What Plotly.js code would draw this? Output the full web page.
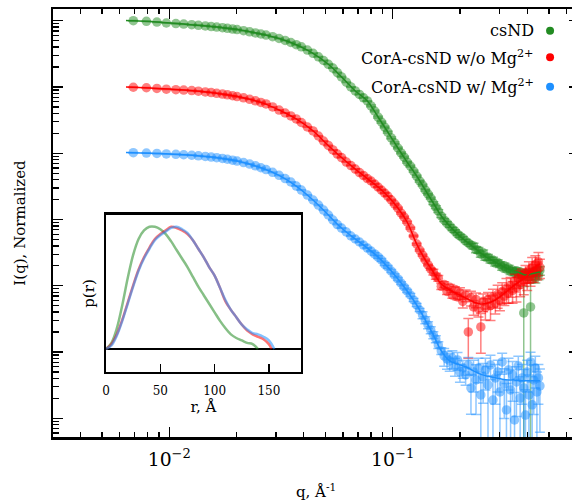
<!DOCTYPE html>
<html>
<head>
<meta charset="utf-8">
<script src="https://cdn.plot.ly/plotly-3.0.1.min.js"></script>
<style>
html,body{margin:0;padding:0;overflow:hidden;background:#fff;}
#chart{width:590px;height:501px;}
</style>
</head>
<body>
<div id="chart"></div>
<script>
// ---- SAXS data: q (1/Å) and normalized intensities ----
const q = [0.0069,0.0079,0.0088,0.0097,0.0107,0.0116,0.0126,0.0135,0.0145,0.0154,0.0163,0.0173,0.0182,0.0192,0.0201,0.0215,0.0229,0.0243,0.0257,0.0271,0.0290,0.0310,0.0330,0.0350,0.0370,0.0390,0.0415,0.0440,0.0465,0.0490,0.0515,0.0540,0.0565,0.0590,0.0620,0.0650,0.0680,0.0710,0.0740,0.0770,0.0800,0.0830,0.0860,0.0890,0.0920,0.0950,0.0985,0.1020,0.1055,0.1090,0.1125,0.1160,0.1200,0.1240,0.1280,0.1320,0.1360,0.1400,0.1440,0.1480,0.1520,0.1560,0.1600,0.1650,0.1700,0.1750,0.1800,0.1850,0.1900,0.1950,0.2000,0.2060,0.2120,0.2180,0.2240,0.2300,0.2360,0.2420,0.2480,0.2540,0.2600,0.2670,0.2740,0.2810,0.2880,0.2950,0.3020,0.3090,0.3160,0.3230,0.3300,0.3370,0.3440,0.3510,0.3580,0.3650,0.3720,0.3790,0.3860,0.3930,0.4000,0.4070,0.4140,0.4210,0.4280,0.4350,0.4420,0.4490,0.4560];

const I_csND = [1000,979,953,923,904,889,870,852,835,817,803,784,768,749,734,706,680,654,630,608,573,539,504,469,434,404,361,322,285,251,220,193,165,142,118,100,87.0,77.1,68.7,61.5,51.7,43.4,35.2,29.6,24.9,20.9,17.0,14.3,12.0,10.1,8.76,7.36,6.41,5.39,4.53,3.81,3.31,2.78,2.42,2.11,1.77,1.54,1.34,1.13,0.983,0.885,0.798,0.719,0.670,0.604,0.564,0.526,0.474,0.442,0.412,0.40,0.35,0.345,0.30,0.315,0.27,0.27,0.245,0.245,0.22,0.225,0.21,0.19,0.20,0.178,0.185,0.165,0.172,0.158,0.168,0.15,0.162,0.142,0.039,0.152,0.138,0.155,0.048,0.14,0.16,0.13,0.165,0.145,0.17];

const I_noMg = [99.0,97.3,94.9,92.6,91.0,89.8,88.2,86.4,84.3,82.3,80.3,78.1,76.0,73.7,71.6,68.5,65.2,61.9,58.5,55.4,49.9,44.9,40.5,36.5,32.9,29.1,24.9,21.7,18.2,15.3,13.1,11.2,9.72,8.61,7.36,6.52,5.77,5.11,4.61,4.15,3.81,3.43,3.09,2.78,2.51,2.26,1.97,1.71,1.49,1.25,1.09,0.917,0.744,0.564,0.427,0.346,0.291,0.245,0.206,0.179,0.161,0.140,0.13,0.098,0.105,0.082,0.095,0.072,0.088,0.068,0.078,0.058,0.072,0.0201,0.066,0.048,0.062,0.045,0.0239,0.058,0.047,0.062,0.05,0.068,0.055,0.074,0.06,0.082,0.07,0.092,0.078,0.1,0.085,0.115,0.095,0.13,0.105,0.14,0.118,0.155,0.125,0.17,0.14,0.19,0.16,0.21,0.175,0.23,0.19];

const I_Mg = [10.2,10.07,9.93,9.76,9.63,9.49,9.33,9.14,8.95,8.76,8.58,8.35,8.12,7.87,7.63,7.24,6.87,6.45,6.04,5.66,5.15,4.64,4.15,3.68,3.20,2.78,2.34,1.97,1.65,1.39,1.17,0.983,0.840,0.744,0.648,0.564,0.508,0.458,0.412,0.371,0.335,0.302,0.272,0.245,0.213,0.192,0.167,0.145,0.127,0.110,0.0959,0.0835,0.0726,0.0610,0.0513,0.0431,0.0362,0.0304,0.0256,0.0215,0.0181,0.0157,0.0128,0.0104,0.00873,0.00787,0.00734,0.00805,0.00617,0.00760,0.00501,0.00575,0.00451,0.00639,0.00287,0.00501,0.00379,0.00575,0.00225,0.00421,0.00537,0.00319,0.00639,0.00189,0.00407,0.00501,0.00250,0.00709,0.00330,0.00134,0.00537,0.00268,0.00451,0.000943,0.00354,0.00617,0.00202,0.00407,0.00287,0.00112,0.00501,0.00225,0.00709,0.00160,0.00379,0.00575,0.00250,0.00407,0.00308];

// relative uncertainties (fraction of I)
const relErr_csND = [0.01,0.01,0.01,0.01,0.01,0.01,0.01,0.01,0.01,0.01,0.01,0.01,0.01,0.01,0.01,0.01,0.01,0.01,0.01,0.01,0.01,0.01,0.01,0.01,0.01,0.01,0.01,0.01,0.01,0.01,0.01,0.01,0.01,0.01,0.01,0.01,0.01,0.01,0.01,0.01,0.03,0.03,0.03,0.03,0.03,0.03,0.03,0.03,0.03,0.03,0.03,0.03,0.03,0.03,0.03,0.03,0.03,0.03,0.03,0.03,0.05,0.05,0.05,0.05,0.05,0.05,0.05,0.05,0.05,0.05,0.05,0.05,0.05,0.05,0.05,0.1,0.1,0.1,0.1,0.1,0.1,0.1,0.1,0.1,0.1,0.1,0.1,0.1,0.1,0.1,0.1,0.1,0.1,0.1,0.1,0.1,0.1,0.1,1.5,0.12,0.12,0.12,1.3,0.15,0.15,0.15,0.15,0.15,0.15];

const relErr_noMg = [0.01,0.01,0.01,0.01,0.01,0.01,0.01,0.01,0.01,0.01,0.01,0.01,0.01,0.01,0.01,0.01,0.01,0.01,0.01,0.01,0.01,0.01,0.01,0.01,0.01,0.01,0.01,0.01,0.01,0.01,0.01,0.01,0.01,0.01,0.01,0.01,0.01,0.01,0.01,0.01,0.01,0.01,0.01,0.01,0.01,0.01,0.03,0.03,0.03,0.03,0.03,0.03,0.03,0.03,0.03,0.03,0.03,0.03,0.03,0.03,0.1,0.1,0.1,0.1,0.1,0.1,0.1,0.1,0.1,0.1,0.2,0.2,0.2,0.6,0.25,0.25,0.25,0.25,0.6,0.3,0.35,0.28,0.4,0.3,0.32,0.38,0.3,0.35,0.28,0.4,0.3,0.33,0.36,0.3,0.4,0.3,0.35,0.28,0.38,0.3,0.32,0.36,0.3,0.4,0.3,0.35,0.3,0.38,0.32];

const relErr_Mg = [0.01,0.01,0.01,0.01,0.01,0.01,0.01,0.01,0.01,0.01,0.01,0.01,0.01,0.01,0.01,0.01,0.01,0.01,0.01,0.01,0.01,0.01,0.01,0.01,0.01,0.01,0.01,0.01,0.01,0.01,0.01,0.01,0.01,0.01,0.01,0.01,0.01,0.01,0.01,0.01,0.01,0.05,0.05,0.05,0.05,0.05,0.05,0.05,0.05,0.05,0.05,0.05,0.05,0.05,0.05,0.05,0.12,0.12,0.12,0.12,0.12,0.12,0.12,0.12,0.3,0.3,0.3,0.3,0.3,0.3,0.3,0.3,0.3,0.3,0.6,0.5,0.7,0.4,1.2,0.6,0.5,0.9,0.4,1.3,0.6,0.5,1.0,0.35,0.7,1.5,0.5,1.0,0.6,1.6,0.7,0.4,1.1,0.6,0.9,1.4,0.5,1.0,0.4,1.2,0.7,0.5,1.0,0.6,0.8];

// fitted curves
const qFit = [0.0064,0.0069,0.0088,0.0116,0.0154,0.0201,0.0257,0.031,0.037,0.044,0.0515,0.059,0.068,0.077,0.086,0.095,0.1055,0.116,0.128,0.14,0.152,0.165,0.18,0.195,0.212,0.23,0.248,0.267,0.288,0.309,0.33,0.351,0.372,0.393,0.414,0.435,0.456];
const fit_csND = [1010,1000,953,889,817,734,630,539,434,322,220,142,87.0,61.5,35.2,20.9,12.0,7.36,4.53,2.78,1.77,1.13,0.798,0.604,0.474,0.385,0.312,0.262,0.228,0.199,0.179,0.167,0.156,0.145,0.150,0.156,0.161];
const fit_noMg = [100,99.0,94.9,89.8,82.3,71.6,58.5,44.9,32.9,21.7,13.1,8.61,5.77,4.15,3.09,2.26,1.49,0.917,0.427,0.245,0.161,0.106,0.0864,0.0752,0.0654,0.0570,0.0531,0.0550,0.0610,0.0726,0.0864,0.1027,0.118,0.136,0.161,0.192,0.213];
const fit_Mg = [10.3,10.2,9.93,9.49,8.76,7.63,6.04,4.64,3.20,1.97,1.17,0.744,0.508,0.371,0.272,0.192,0.127,0.0835,0.0513,0.0304,0.0181,0.0104,0.00734,0.0066,0.0060,0.0052,0.0046,0.0043,0.0041,0.0039,0.0038,0.0038,0.0037,0.0037,0.0037,0.0037,0.0037];

// pair distance distributions p(r)
const r_csND = [0,5,10,15,20,25,30,35,40,45,50,55,60,65,70,75,80,85,90,95,100,105,110,115,120,125,130,135,140];
const p_csND = [0,0.05,0.17,0.36,0.58,0.77,0.9,0.97,1.0,1.0,0.98,0.94,0.88,0.81,0.74,0.67,0.59,0.51,0.44,0.37,0.3,0.23,0.17,0.12,0.09,0.07,0.05,0.04,0];
const r_noMg = [0,5,10,15,20,25,30,35,40,45,50,55,60,65,70,75,80,85,90,95,100,105,110,115,120,125,130,135,140,145,150,152.5];
const p_noMg = [0,0.04,0.12,0.24,0.38,0.52,0.65,0.75,0.83,0.9,0.94,0.97,1.0,0.99,0.97,0.94,0.89,0.82,0.75,0.67,0.6,0.5,0.39,0.32,0.26,0.2,0.15,0.12,0.1,0.08,0.04,0];
const r_Mg = [0,5,10,15,20,25,30,35,40,45,50,55,60,65,70,75,80,85,90,95,100,105,110,115,120,125,130,135,140,145,150,155];
const p_Mg = [0,0.03,0.11,0.23,0.37,0.51,0.64,0.74,0.82,0.89,0.93,0.96,0.99,1.0,0.98,0.95,0.89,0.82,0.75,0.67,0.6,0.5,0.4,0.32,0.26,0.2,0.16,0.13,0.12,0.1,0.07,0];

const seriesNames = ['csND', 'CorA-csND w/o Mg<sup>2+</sup>', 'CorA-csND w/ Mg<sup>2+</sup>'];
const rgb = ['34,139,34', '255,0,0', '30,144,255'];

const Iall = [I_csND, I_noMg, I_Mg];
const relAll = [relErr_csND, relErr_noMg, relErr_Mg];
const fitAll = [fit_csND, fit_noMg, fit_Mg];
const rAll = [r_csND, r_noMg, r_Mg];
const pAll = [p_csND, p_noMg, p_Mg];

const traces = [];
for (let s = 0; s < 3; s++) {
  const err = Iall[s].map((v, i) => v * relAll[s][i]);
  traces.push({
    type: 'scatter', mode: 'markers', x: q, y: Iall[s], name: seriesNames[s],
    xaxis: 'x', yaxis: 'y',
    marker: {size: 9.5, color: 'rgb(' + rgb[s] + ')', opacity: 0.5},
    error_y: {type: 'data', array: err, visible: true, color: 'rgba(' + rgb[s] + ',0.5)', thickness: 1.5, width: 5},
    hoverinfo: 'skip'
  });
}
for (let s = 0; s < 3; s++) {
  traces.push({
    type: 'scatter', mode: 'lines', x: qFit, y: fitAll[s], name: seriesNames[s] + ' fit',
    xaxis: 'x', yaxis: 'y', line: {color: 'rgb(' + rgb[s] + ')', width: 1.5, shape: 'spline'},
    hoverinfo: 'skip'
  });
}
for (let s = 0; s < 3; s++) {
  traces.push({
    type: 'scatter', mode: 'lines', x: rAll[s], y: pAll[s], name: seriesNames[s] + ' p(r)',
    xaxis: 'x2', yaxis: 'y2', line: {color: 'rgba(' + rgb[s] + ',0.55)', width: 2.5, shape: 'spline'},
    hoverinfo: 'skip'
  });
}

const legendY = [0.949, 0.887, 0.8185];
const annotations = [], shapes = [];
for (let s = 0; s < 3; s++) {
  annotations.push({xref: 'paper', yref: 'paper', x: 0.918, y: legendY[s], xanchor: 'right', yanchor: 'middle',
    text: seriesNames[s], showarrow: false, font: {size: 16, color: 'black'}});
  shapes.push({type: 'circle', xref: 'paper', yref: 'paper', xsizemode: 'pixel', ysizemode: 'pixel',
    xanchor: 0.945, yanchor: legendY[s], x0: -4, x1: 4, y0: -4, y1: 4,
    fillcolor: 'rgb(' + rgb[s] + ')', line: {width: 0}});
}

const layout = {
  width: 590, height: 501,
  margin: {l: 53, r: 11, t: 9, b: 64},
  paper_bgcolor: 'white', plot_bgcolor: 'rgba(0,0,0,0)',
  font: {family: 'DejaVu Serif', color: 'black', size: 14},
  showlegend: false,
  xaxis: {
    type: 'log', range: [-2.5206, -0.1661], showline: true, linewidth: 2.5, linecolor: 'black', mirror: 'ticks',
    ticks: 'inside', ticklen: 10, tickwidth: 1.3, tickcolor: 'black', dtick: 1, exponentformat: 'power',
    minor: {dtick: 'D1', ticks: 'inside', ticklen: 5, tickwidth: 1.3, tickcolor: 'black', showgrid: false},
    showgrid: false, zeroline: false, tickfont: {size: 15}, ticklabelstandoff: 5,
    title: {text: 'q, Å<sup>-1</sup>', font: {size: 15}, standoff: 18}
  },
  yaxis: {
    type: 'log', range: [-3.2819, 3.1766], showline: true, linewidth: 2.5, linecolor: 'black', mirror: 'ticks',
    ticks: 'inside', ticklen: 10, tickwidth: 1.3, tickcolor: 'black', dtick: 1, showticklabels: false,
    minor: {dtick: 'D1', ticks: 'inside', ticklen: 6, tickwidth: 1.3, tickcolor: 'black', showgrid: false},
    showgrid: false, zeroline: false,
    title: {text: 'I(q), Normalized', font: {size: 15}, standoff: 22}
  },
  xaxis2: {
    domain: [0.1008, 0.4709], anchor: 'y2', range: [0, 179.3], showline: true, linewidth: 2.5, linecolor: 'black', mirror: true,
    ticks: 'inside', ticklen: 8, tickwidth: 1.3, tickcolor: 'black', tick0: 0, dtick: 50,
    showgrid: false, zeroline: false, tickfont: {size: 12}, ticklabelstandoff: 6,
    title: {text: 'r, Å', font: {size: 15}, standoff: 2}
  },
  yaxis2: {
    domain: [0.1519, 0.5187], anchor: 'x2', range: [-0.188, 1.096], showline: true, linewidth: 2.5, linecolor: 'black', mirror: true,
    ticks: '', showticklabels: false, showgrid: false,
    zeroline: true, zerolinewidth: 2.5, zerolinecolor: 'black',
    title: {text: 'p(r)', font: {size: 15}, standoff: 6}
  },
  annotations: annotations,
  shapes: shapes
};

Plotly.newPlot('chart', traces, layout, {displayModeBar: false, staticPlot: true});
</script>
</body>
</html>
